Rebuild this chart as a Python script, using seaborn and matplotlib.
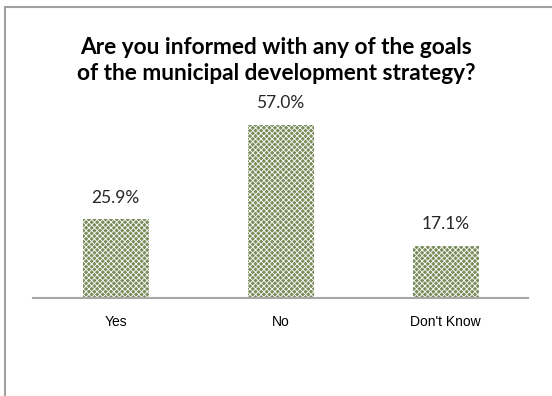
import matplotlib
matplotlib.use("Agg")
import matplotlib.pyplot as plt
import seaborn as sns
import pandas as pd
from matplotlib.lines import Line2D

categories = ["Yes", "No", "Don't Know"]
shares = [25.9, 57.0, 17.1]
value_labels = ["25.9%", "57.0%", "17.1%"]
title = "Are you informed with any of the goals\nof the municipal development strategy?"

sns.set_theme(style="white")
plt.rcParams["hatch.color"] = "white"
plt.rcParams["hatch.linewidth"] = 0.6

df = pd.DataFrame({"answer": categories, "share": shares})

fig = plt.figure(figsize=(5.52, 3.96), dpi=100)
ax = fig.add_axes([33 / 552, 98 / 396, 495 / 552, 182 / 396])

sns.barplot(data=df, x="answer", y="share", ax=ax, color="#7b8c5b",
            width=0.4, saturation=1)
for bar in ax.patches:
    bar.set_hatch("xxxxxx")
    bar.set_edgecolor("white")
    bar.set_linewidth(0)

ax.set_xlim(-0.5, 2.5)
ax.set_ylim(0, 60)
ax.set_yticks([])
ax.set_xlabel("")
ax.set_ylabel("")
for side in ["top", "right", "left"]:
    ax.spines[side].set_visible(False)
ax.spines["bottom"].set_color("#a6a6a6")
ax.spines["bottom"].set_linewidth(1.5)
ax.tick_params(axis="x", length=0, pad=12)
for lbl in ax.get_xticklabels():
    lbl.set_fontfamily("Liberation Sans")
    lbl.set_fontsize(10)
    lbl.set_color("black")

for i, (v, txt) in enumerate(zip(shares, value_labels)):
    ax.annotate(txt, (i, v), xytext=(0, 10), textcoords="offset points",
                ha="center", va="bottom", fontsize=12.5, family="Lato",
                color="#262626")

fig.text(276 / 552, 1 - 60.5 / 396, title, ha="center", va="center",
         fontsize=16.3, fontweight="bold", family="Lato", color="black",
         linespacing=1.3)

# outer chart frame (left and top edges)
fig.add_artist(Line2D([5.5 / 552, 5.5 / 552], [0, 1 - 7 / 396],
                      transform=fig.transFigure, color="#a0a0a0", lw=1.5))
fig.add_artist(Line2D([5.5 / 552, 1], [1 - 7 / 396, 1 - 7 / 396],
                      transform=fig.transFigure, color="#a0a0a0", lw=1.5))

fig.savefig("out.png", dpi=100)
